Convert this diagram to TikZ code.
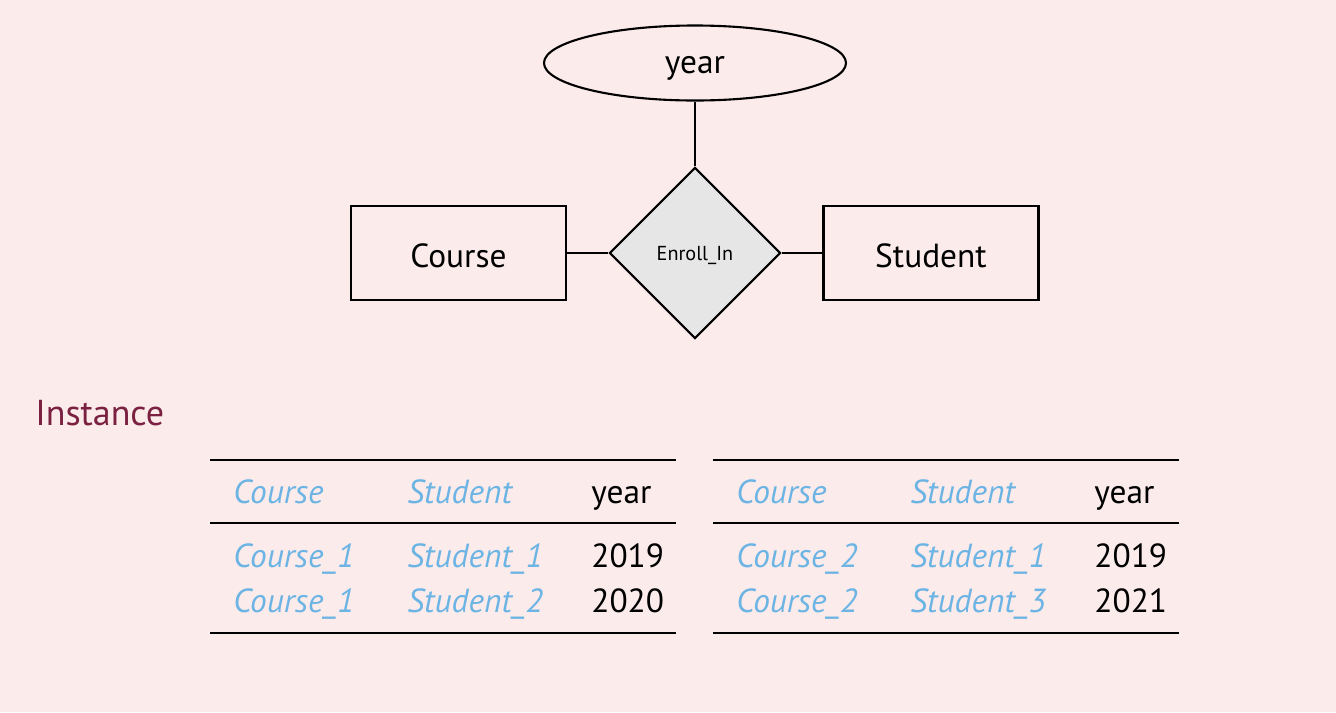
\documentclass[tikz,border=0pt]{standalone}
\usepackage{fontspec}
\setmainfont{PT Sans}
\usetikzlibrary{shapes.geometric}

\definecolor{bgpink}{HTML}{FCEBEB}
\definecolor{keyblue}{HTML}{6CB4E4}
\definecolor{headred}{HTML}{7A2141}
\definecolor{relgray}{HTML}{E6E6E6}

\tikzset{
  entity/.style={draw,line width=1.2pt,minimum width=4.3cm,minimum height=1.88cm,
    text height=16pt,text depth=0pt,font=\fontsize{19}{23}\selectfont},
  attrib/.style={draw,ellipse,line width=1.2pt,minimum width=6.04cm,minimum height=1.5cm,
    text height=11.4pt,text depth=0pt,font=\fontsize{19}{23}\selectfont},
  relation/.style={draw,diamond,fill=relgray,line width=1.2pt,minimum width=3.42cm,
    minimum height=3.42cm,inner sep=0pt,text height=8pt,text depth=0pt,
    font=\fontsize{11.5}{14}\selectfont},
  link/.style={line width=1.2pt},
  cell/.style={anchor=base west,inner sep=0pt,font=\fontsize{19}{23}\selectfont},
  keycell/.style={cell,text=keyblue,font=\fontsize{19}{23}\selectfont\itshape},
  heavyrule/.style={line width=1.6pt},
  lightrule/.style={line width=0.9pt}
}

\begin{document}
\begin{tikzpicture}[x=0.2mm,y=-0.2mm]
  \fill[bgpink] (0,0) rectangle (1336,712);
  \useasboundingbox (0,0) rectangle (1336,712);

  % ER part
  \node[attrib] (year) at (695,63) {year};
  \node[relation] (enroll) at (695,253) {Enroll\_In};
  \node[entity] (course) at (458.5,253) {Course};
  \node[entity] (student) at (931,253) {Student};
  \draw[link] (year) -- (enroll);
  \draw[link] (course) -- (enroll);
  \draw[link] (enroll) -- (student);

  % instance tables
  \node[cell,text=headred,font=\fontsize{20.5}{24}\selectfont] (inst) at (35,425) {Instance};
  \foreach \t/\dx/\ca/\sa/\ya/\cb/\sb/\yb in
      {L/0/1/1/2019/1/2/2020,
       R/503/2/1/2019/2/3/2021}{
    \draw[heavyrule] (\dx+210,460) -- (\dx+676,460);
    \draw[lightrule] (\dx+210,523) -- (\dx+676,523);
    \draw[heavyrule] (\dx+210,633) -- (\dx+676,633);
    \node[keycell] (\t-hc) at (\dx+233,503) {Course};
    \node[keycell] (\t-hs) at (\dx+407,503) {Student};
    \node[cell] (\t-hy) at (\dx+591,503) {year};
    \node[keycell] (\t-c1) at (\dx+233,567) {Course\_\ca};
    \node[keycell] (\t-s1) at (\dx+407,567) {Student\_\sa};
    \node[cell] (\t-y1) at (\dx+591,567) {\ya};
    \node[keycell] (\t-c2) at (\dx+233,612) {Course\_\cb};
    \node[keycell] (\t-s2) at (\dx+407,612) {Student\_\sb};
    \node[cell] (\t-y2) at (\dx+591,612) {\yb};
  }
\end{tikzpicture}
\end{document}
